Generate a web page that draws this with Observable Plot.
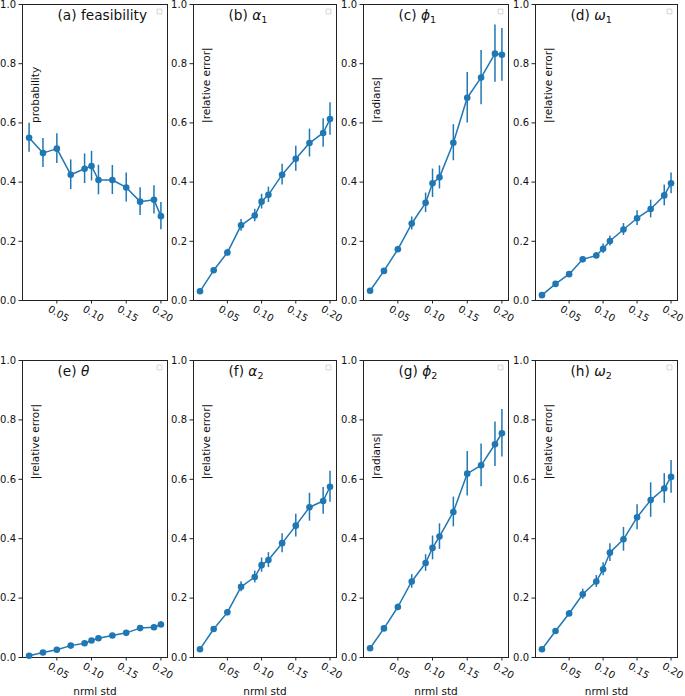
<!DOCTYPE html>
<html>
<head>
<meta charset="utf-8">
<script src="https://cdn.jsdelivr.net/npm/d3@7"></script>
<script src="https://cdn.jsdelivr.net/npm/@observablehq/plot@0.6"></script>
<style>
  html, body { margin: 0; padding: 0; background: white; }
  #grid { position: relative; width: 685px; height: 696px; overflow: hidden; background: white; }
  #grid > svg { position: absolute; }
</style>
</head>
<body>
<div id="grid"></div>
<script>
// ---- data ----
const noiseStd = [0.01, 0.03, 0.05, 0.07, 0.09, 0.10, 0.11, 0.13, 0.15, 0.17, 0.19, 0.20];
const xTicks = [0.05, 0.10, 0.15, 0.20];
const yTicks = [0, 0.2, 0.4, 0.6, 0.8, 1.0];

const feasibility    = [0.550, 0.498, 0.513, 0.425, 0.445, 0.454, 0.407, 0.407, 0.382, 0.334, 0.340, 0.285];
const feasibilityErr = [0.049, 0.049, 0.050, 0.050, 0.050, 0.050, 0.050, 0.049, 0.049, 0.047, 0.048, 0.046];
const alpha1    = [0.031, 0.102, 0.162, 0.254, 0.287, 0.334, 0.357, 0.425, 0.479, 0.532, 0.566, 0.613];
const alpha1Err = [0.004, 0.006, 0.011, 0.020, 0.021, 0.025, 0.026, 0.035, 0.042, 0.047, 0.048, 0.055];
const phi1    = [0.033, 0.100, 0.173, 0.260, 0.330, 0.396, 0.416, 0.533, 0.685, 0.753, 0.834, 0.830];
const phi1Err = [0.004, 0.007, 0.010, 0.022, 0.033, 0.048, 0.039, 0.061, 0.085, 0.092, 0.097, 0.089];
const omega1    = [0.018, 0.056, 0.089, 0.139, 0.152, 0.175, 0.201, 0.240, 0.278, 0.309, 0.355, 0.396];
const omega1Err = [0.003, 0.005, 0.007, 0.008, 0.010, 0.016, 0.017, 0.020, 0.025, 0.030, 0.035, 0.035];
const theta    = [0.006, 0.017, 0.026, 0.040, 0.048, 0.057, 0.065, 0.074, 0.083, 0.099, 0.102, 0.111];
const thetaErr = [0.002, 0.003, 0.004, 0.005, 0.006, 0.006, 0.006, 0.007, 0.007, 0.008, 0.008, 0.009];
const alpha2    = [0.028, 0.096, 0.152, 0.238, 0.271, 0.311, 0.328, 0.385, 0.444, 0.506, 0.527, 0.575];
const alpha2Err = [0.004, 0.006, 0.010, 0.017, 0.020, 0.024, 0.025, 0.032, 0.038, 0.047, 0.045, 0.052];
const phi2    = [0.031, 0.098, 0.170, 0.256, 0.318, 0.369, 0.407, 0.490, 0.619, 0.647, 0.718, 0.755];
const phi2Err = [0.004, 0.007, 0.010, 0.023, 0.028, 0.040, 0.043, 0.050, 0.075, 0.072, 0.075, 0.080];
const omega2    = [0.028, 0.089, 0.148, 0.213, 0.256, 0.297, 0.353, 0.398, 0.472, 0.530, 0.569, 0.608];
const omega2Err = [0.003, 0.006, 0.010, 0.017, 0.020, 0.022, 0.030, 0.040, 0.042, 0.058, 0.050, 0.055];

const seriesValues = [feasibility, alpha1, phi1, omega1, theta, alpha2, phi2, omega2];
const seriesErrors = [feasibilityErr, alpha1Err, phi1Err, omega1Err, thetaErr, alpha2Err, phi2Err, omega2Err];
const titlePrefixes = ["(a) ", "(b) ", "(c) ", "(d) ", "(e) ", "(f) ", "(g) ", "(h) "];
const titleSymbols  = ["feasibility", "α", "ϕ", "ω", "θ", "α", "ϕ", "ω"];
const titleSubs     = ["", "1", "1", "1", "", "2", "2", "2"];
const yLabels = ["probability", "|relative error|", "|radians|", "|relative error|",
                 "|relative error|", "|relative error|", "|radians|", "|relative error|"];
const xLabel = "nrml std";

// ---- layout ----
const panelLefts = [22, 193, 363, 535];
const panelWidths = [145, 143, 145, 142];
const rowTops = [4, 360];
const rowHeights = [296, 297];
const mL = 22, mR = 6, mT = 4, mB = 42;
const blue = "#1f77b4";
const yLabelAt = 0.6;
const fmt1 = d3.format(".1f"), fmt2 = d3.format(".2f");

const grid = document.getElementById("grid");

seriesValues.forEach((vals, i) => {
  const row = Math.floor(i / 4), col = i % 4;
  const pw = panelWidths[col], ph = rowHeights[row];
  const data = noiseStd.map((x, j) => ({x, y: vals[j], lo: vals[j] - seriesErrors[i][j], hi: vals[j] + seriesErrors[i][j]}));
  const title = titlePrefixes[i] + titleSymbols[i] + titleSubs[i];
  const marks = [
    Plot.frame({stroke: "#222", strokeWidth: 1}),
    Plot.axisY({ticks: yTicks, tickFormat: fmt1, tickSize: 3.5, tickPadding: 3, label: null, fontSize: 10, stroke: "#222"}),
    Plot.axisX({ticks: xTicks, tickFormat: () => "", tickSize: 3.5, label: null, stroke: "#222"}),
    Plot.text(xTicks, {x: d => d, text: d => fmt2(d), frameAnchor: "bottom", dy: 16, rotate: 30, fontSize: 10, fill: "#111"}),
    Plot.ruleX(data, {x: "x", y1: "lo", y2: "hi", stroke: blue, strokeWidth: 1.5}),
    Plot.line(data, {x: "x", y: "y", stroke: blue, strokeWidth: 1.5}),
    Plot.dot(data, {x: "x", y: "y", r: 3.3, fill: blue}),
    Plot.text([yLabels[i]], {frameAnchor: "left", y: () => yLabelAt, dx: 13, rotate: -90, textAnchor: "start", lineAnchor: "middle", fontSize: 10.5, fill: "#111"}),
    Plot.text([title], {frameAnchor: "top-left", dx: 35, dy: 11, textAnchor: "start", lineAnchor: "middle", fontSize: 13.7, fill: "#111"}),
    Plot.dot([0], {frameAnchor: "top-right", dx: -8, dy: 7, symbol: "square", r: 2.7, stroke: "#ccc", strokeWidth: 0.8, fill: "white"})
  ];
  if (row === 1) {
    marks.push(Plot.text([xLabel], {frameAnchor: "bottom", dy: 34, lineAnchor: "middle", fontSize: 10.5, fill: "#111"}));
  }
  const chart = Plot.plot({
    width: mL + pw + mR,
    height: mT + ph + mB,
    marginLeft: mL, marginRight: mR, marginTop: mT, marginBottom: mB,
    x: {domain: [0.0005, 0.2095]},
    y: {domain: [0, 1]},
    style: {fontFamily: "DejaVu Sans", fontSize: "10px", background: "transparent", overflow: "visible", color: "#111"},
    marks
  });
  chart.style.left = (panelLefts[col] - mL) + "px";
  chart.style.top = (rowTops[row] - mT) + "px";
  // rebuild title with italic math symbol and subscript
  if (titleSymbols[i].length === 1) {
    d3.select(chart).selectAll("text").filter(function() { return this.textContent === title; }).each(function() {
      const t = d3.select(this);
      t.text(null);
      t.append("tspan").text(titlePrefixes[i]);
      t.append("tspan").attr("font-style", "italic").text(titleSymbols[i]);
      if (titleSubs[i]) t.append("tspan").attr("font-size", "0.7em").attr("dy", "0.3em").text(titleSubs[i]);
    });
  }
  grid.appendChild(chart);
});
</script>
</body>
</html>
